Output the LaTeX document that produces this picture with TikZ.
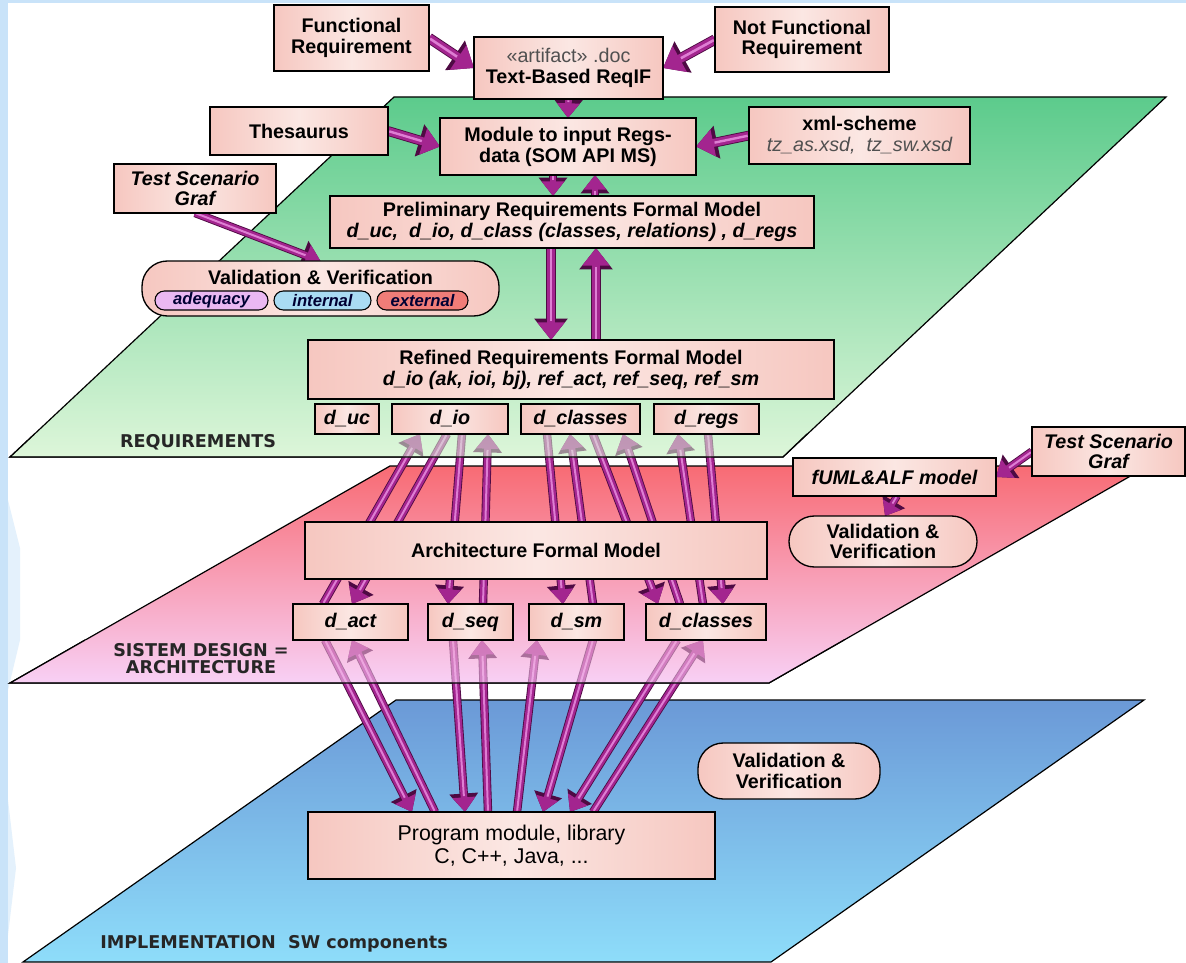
\documentclass[tikz,border=0pt]{standalone}
\usepackage{fontspec}
\setmainfont{Liberation Sans}
\newfontfamily\labfont{DejaVu Sans}
\usetikzlibrary{arrows.meta,calc}
\pgfdeclarelayer{bg}
\pgfdeclarelayer{arr}
\pgfdeclarelayer{ovl}
\pgfsetlayers{bg,arr,ovl,main}
\definecolor{boxL}{HTML}{F6C7C0}
\definecolor{boxM}{HTML}{FBE7E3}
\definecolor{arrA}{HTML}{A3258F}
\definecolor{arrO}{HTML}{4E0A43}
\definecolor{arrL}{HTML}{DE7ED3}
\definecolor{gTop}{HTML}{5CCB8C}
\definecolor{gBot}{HTML}{DDF6D9}
\definecolor{rTop}{HTML}{F86B74}
\definecolor{rBot}{HTML}{F8D0F5}
\definecolor{bTop}{HTML}{6B99D7}
\definecolor{bBot}{HTML}{8EDDFA}
\definecolor{bgB}{HTML}{C9E3F9}
\definecolor{tgray}{HTML}{505050}
\definecolor{pA}{HTML}{EAB8F2}
\definecolor{pB}{HTML}{A9DBF3}
\definecolor{pC}{HTML}{F07D78}
\newcommand\szM{\fontsize{14.8}{15.6}\selectfont}
\newcommand\szS{\fontsize{12.5}{13}\selectfont}
\newcommand\szP{\fontsize{16}{17}\selectfont}
\tikzset{
  geom/.style args={#1/#2/#3/#4}{at={({(#1+#3)/2},{(#2+#4)/2})},
    minimum width={(#3-#1)*0.75pt}, minimum height={(#4-#2)*0.75pt}},
  box/.style={draw=black, line width=1pt, left color=boxL, right color=boxL, middle color=boxM,
    inner sep=0pt, outer sep=0pt, align=center, font=\szM\bfseries, text=black},
  sbox/.style={box, font=\szM\bfseries\itshape},
  rbox/.style={box, rounded corners=19pt},
  pill/.style={draw=black, line width=0.8pt, rounded corners=7pt, inner sep=0pt, outer sep=0pt,
    font=\szS\bfseries\itshape, text=black!80!blue},
  parr/.style={draw=arrA, line width=#1, -{Triangle[width=0pt 3.3, length=0pt 2.2]},
    preaction={draw=arrO, line width=#1+1.3pt, -{Triangle[width=0pt 3.3, length=0pt 2.2]}},
    postaction={draw=arrL, line width=0.3*#1, shorten >=2.2*#1+1pt, shorten <=1pt, -}},
  parr/.default=5pt,
  plane/.style={draw=black, line width=0.9pt},
  lab/.style={font=\labfont\fontsize{13.2}{12.8}\selectfont\bfseries, text=black!85, align=center, inner sep=0pt}
}
\begin{document}
\begin{tikzpicture}[x=0.75pt,y=-0.75pt]
\useasboundingbox (0,0) rectangle (1186,963);
% ---------- nodes ----------
\node[box, geom=274/5/429/71] (fr) {Functional\\Requirement};
\node[box, geom=474/37/663/99] (tb) {{\mdseries\color{tgray}«artifact» .doc}\\Text-Based ReqIF};
\node[box, geom=715/7/889/72] (nfr) {Not Functional\\Requirement};
\node[box, geom=210/107/388/155] (thes) {Thesaurus};
\node[box, geom=440/118/696/175] (mod) {Module to input Regs-\\data (SOM API MS)};
\node[box, geom=749/107/970/164] (xml) {xml-scheme\\{\mdseries\itshape\color{tgray}tz\_as.xsd,\ \ tz\_sw.xsd}};
\node[sbox, geom=114/164/276/213] (tsg1) {Test Scenario\\Graf};
\node[box, geom=330/196/814/248] (pre) {Preliminary Requirements Formal Model\\{\itshape d\_uc,\ \ d\_io, d\_class (classes, relations) , d\_regs}};
\node[rbox, geom=142/261/499/316] (vv1) {};
\node[font=\szM\bfseries, inner sep=0pt] (vv1t) at (320.5,277) {Validation \& Verification};
\node[pill, fill=pA, geom=155/291/268/310] (adq) {adequacy};
\node[pill, fill=pB, geom=274/291/371/310] (int) {internal};
\node[pill, fill=pC, geom=377/291/468/310] (ext) {external};
\node[box, geom=308/340/834/399] (ref) {Refined Requirements Formal Model\\{\itshape d\_io (ak, ioi, bj), ref\_act, ref\_seq, ref\_sm}};
\node[sbox, geom=315/404/379/434] (duc) {d\_uc};
\node[sbox, geom=392/404/508/434] (dio) {d\_io};
\node[sbox, geom=521/404/640/434] (dcl) {d\_classes};
\node[sbox, geom=654/404/759/434] (dreg) {d\_regs};
\node[sbox, geom=793/458/996/496] (fuml) {fUML\&ALF model};
\node[sbox, geom=1032/427/1185/476] (tsg2) {Test Scenario\\Graf};
\node[rbox, geom=789/516/977/567] (vv2) {Validation \&\\Verification};
\node[box, geom=305/522/767/579] (arch) {Architecture Formal Model};
\node[sbox, geom=293/604/408/640] (dact) {d\_act};
\node[sbox, geom=428/604/513/640] (dseq) {d\_seq};
\node[sbox, geom=529/604/624/640] (dsm) {d\_sm};
\node[sbox, geom=646/604/766/640] (dcl2) {d\_classes};
\node[rbox, geom=698/743/880/799] (vv3) {Validation \&\\Verification};
\node[box, geom=308/812/715/879, font=\szP] (prog) {Program module, library\\C, C++, Java, ...};
\node[lab] (lreq) at (198,442) {REQUIREMENTS};
\node[lab] (lsys) at (201,659) {SISTEM DESIGN =\\ARCHITECTURE};
\node[lab, anchor=west] (limp) at (100,944) {IMPLEMENTATION\ \ SW components};
% ---------- background and planes ----------
\begin{pgfonlayer}{bg}
\fill[white] (0,0) rectangle (1186,963);
\fill[bgB] (0,0) rectangle (8,963);
\fill[bgB] (0,0) rectangle (1186,3);
\fill[bgB!50] (8,500) -- (20,548) -- (20,640) -- (8,690) -- cycle;
\fill[bgB!50] (8,800) -- (16,868) -- (8,935) -- cycle;
\shade[top color=gTop, bottom color=gBot] (394,97) -- (1166,97) -- (783,457) -- (10,457) -- cycle;
\draw[plane] (394,97) -- (1166,97) -- (783,457) -- (10,457) -- cycle;
\shade[top color=rTop, bottom color=rBot] (390,466) -- (1148,466) -- (769,683) -- (10,683) -- cycle;
\draw[plane] (390,466) -- (1148,466) -- (769,683) -- (10,683) -- cycle;
\shade[top color=bTop, bottom color=bBot] (396,700) -- (1144,700) -- (771,962) -- (23,962) -- cycle;
\draw[plane] (396,700) -- (1144,700) -- (771,962) -- (23,962) -- cycle;
\end{pgfonlayer}
% ---------- arrows ----------
\begin{pgfonlayer}{arr}
\draw[parr=6.5pt] (fr.east) -- (tb.west);
\draw[parr=6.5pt] (nfr.west) -- (tb.east);
\draw[parr=5pt] (tb.south) -- (mod.north);
\draw[parr=6pt] (thes.east) -- (mod.west);
\draw[parr=6pt] (xml.west) -- (mod.east);
\draw[parr=5pt] ($(mod.south)+(-15,0)$) -- ($(pre.north)+(-19,0)$);
\draw[parr=5pt] ($(pre.north)+(23,0)$) -- ($(mod.south)+(27,0)$);
\draw[parr=6pt] ($(pre.south)+(-21,0)$) -- ($(ref.north)+(-20,0)$);
\draw[parr=6pt] ($(ref.north)+(25,0)$) -- ($(pre.south)+(24,0)$);
\draw[parr=5pt] (tsg1.south) -- (vv1.north);
\draw[parr=5pt] (tsg2.west) -- (fuml.east);
\draw[parr=4.5pt] ($(fuml.south)+(2.5,0)$) -- ($(vv2.north)+(2,0)$);
% requirements <-> architecture
\draw[parr] ($(dact.north west)+(30,0)$) -- ($(dio.south west)+(28,0)$);
\draw[parr] ($(dio.south west)+(55,0)$) -- ($(dact.north west)+(59,0)$);
\draw[parr] ($(dio.south west)+(70,0)$) -- ($(dseq.north west)+(20,0)$);
\draw[parr] ($(dseq.north west)+(55,0)$) -- ($(dio.south west)+(96,0)$);
\draw[parr] ($(dcl.south west)+(26,0)$) -- ($(dsm.north west)+(34,0)$);
\draw[parr] ($(dsm.north west)+(64,0)$) -- ($(dcl.south west)+(49,0)$);
\draw[parr] ($(dcl.south west)+(72,0)$) -- ($(dcl2.north west)+(12,0)$);
\draw[parr] ($(dcl2.north west)+(34,0)$) -- ($(dcl.south west)+(102,0)$);
\draw[parr] ($(dcl2.north west)+(57,0)$) -- ($(dreg.south west)+(24,0)$);
\draw[parr] ($(dreg.south west)+(54,0)$) -- ($(dcl2.north west)+(77,0)$);
% architecture <-> implementation
\draw[parr] ($(dact.south west)+(32,0)$) -- ($(prog.north west)+(104,0)$);
\draw[parr] ($(prog.north west)+(127,0)$) -- ($(dact.south west)+(59,0)$);
\draw[parr] ($(dseq.south west)+(25,0)$) -- ($(prog.north west)+(157,0)$);
\draw[parr] ($(prog.north west)+(180,0)$) -- ($(dseq.south west)+(54,0)$);
\draw[parr] ($(prog.north west)+(209,0)$) -- ($(dsm.south west)+(8,0)$);
\draw[parr] ($(dsm.south west)+(64,0)$) -- ($(prog.north west)+(235,0)$);
\draw[parr] ($(dcl2.south west)+(31,0)$) -- ($(prog.north west)+(262,0)$);
\draw[parr] ($(prog.north west)+(285,0)$) -- ($(dcl2.south west)+(57,0)$);
\end{pgfonlayer}
% ---------- fading of arrow parts behind the planes ----------
\begin{pgfonlayer}{ovl}
\shade[top color=gBot!94!gTop, bottom color=gBot, opacity=0.55] (34.5,434) -- (807,434) -- (783,457) -- (10,457) -- cycle;
\draw[plane] (34.5,434) -- (10,457) -- (783,457) -- (807,434);
\shade[top color=rBot!80!rTop, bottom color=rBot, opacity=0.55] (85,640) -- (844,640) -- (769,683) -- (10,683) -- cycle;
\draw[plane] (85,640) -- (10,683) -- (769,683) -- (844,640);
\end{pgfonlayer}
\end{tikzpicture}
\end{document}
